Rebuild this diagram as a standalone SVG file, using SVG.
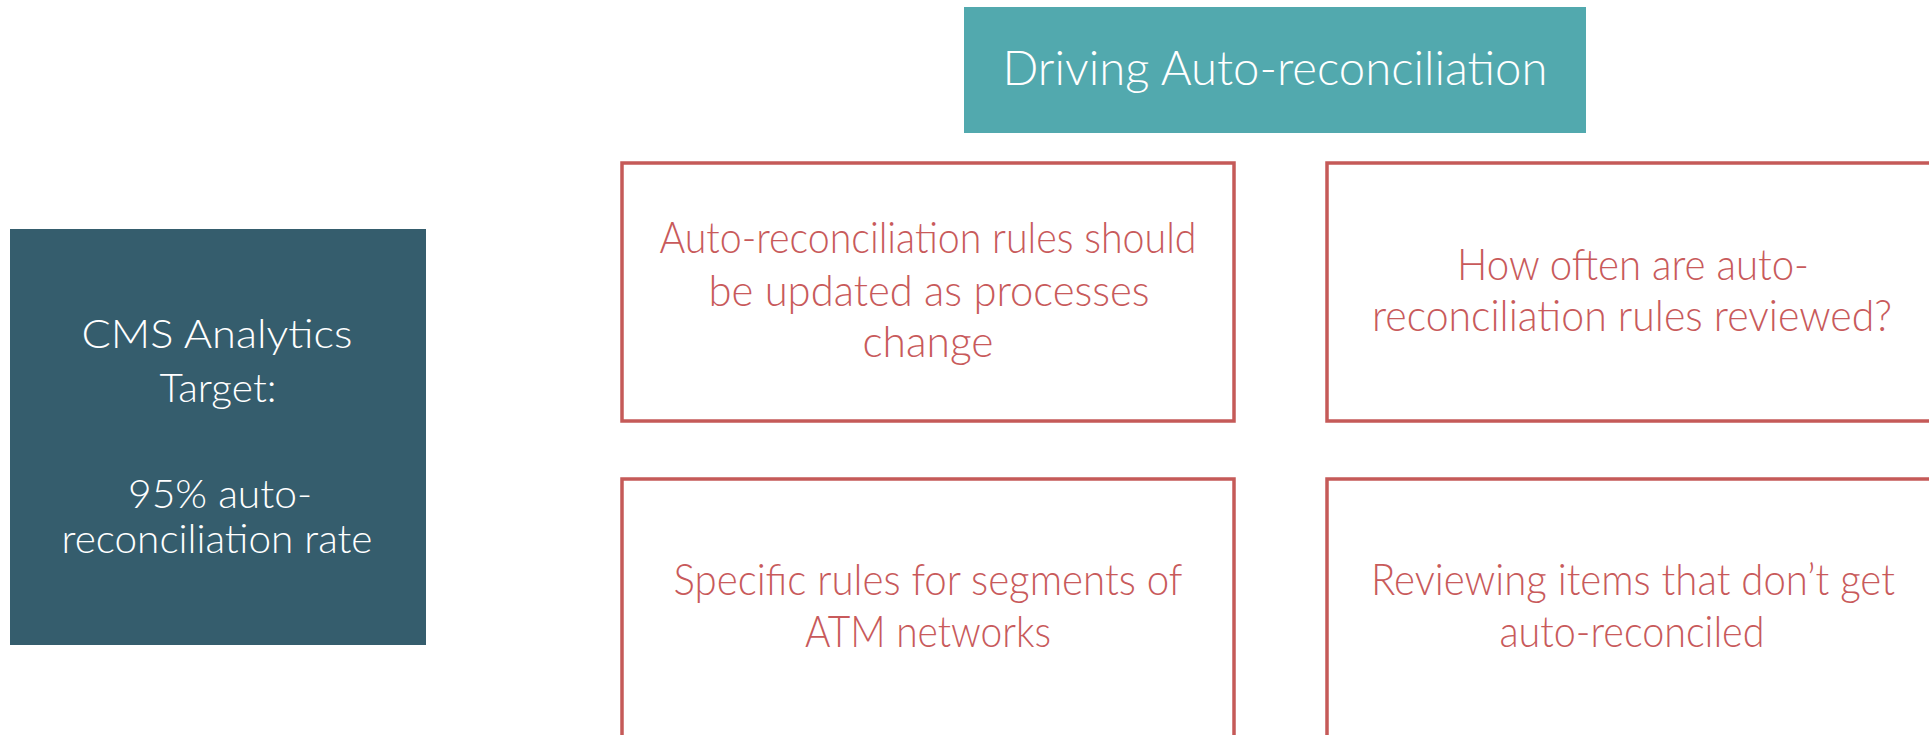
<svg xmlns="http://www.w3.org/2000/svg" width="1929" height="735" viewBox="0 0 1929 735">
<style>
.bg{fill:#ffffff}
.head{fill:#52A9AE}
.target{fill:#355D6D}
.card{fill:#ffffff;stroke:#C55A58;stroke-width:3.5}
text{font-family:"Lato","Liberation Sans",sans-serif;font-weight:300;text-anchor:middle}
.tw{fill:#ffffff}
.tr{fill:#C85A5B}
.f48{font-size:48px}
.f40{font-size:40px}
.f43{font-size:43px}
</style>
<rect class="bg" x="0" y="0" width="1929" height="735"/>
<g id="header">
<rect class="head" x="964" y="7" width="622" height="126"/>
<text class="tw f48" x="1275" y="85" textLength="545" lengthAdjust="spacingAndGlyphs">Driving Auto-reconciliation</text>
</g>
<g id="target">
<rect class="target" x="10" y="229" width="416" height="416"/>
<text class="tw f40" x="217" y="348" textLength="271" lengthAdjust="spacingAndGlyphs">CMS Analytics</text>
<text class="tw f40" x="218" y="402" textLength="117" lengthAdjust="spacingAndGlyphs">Target:</text>
<text class="tw f40" x="220" y="508" textLength="184" lengthAdjust="spacingAndGlyphs">95% auto-</text>
<text class="tw f40" x="217" y="553" textLength="311" lengthAdjust="spacingAndGlyphs">reconciliation rate</text>
</g>
<g id="card-rules-updated">
<rect class="card" x="622" y="163" width="612" height="258"/>
<text class="tr f43" x="928" y="253" textLength="537" lengthAdjust="spacingAndGlyphs">Auto-reconciliation rules should</text>
<text class="tr f43" x="929" y="306" textLength="441" lengthAdjust="spacingAndGlyphs">be updated as processes</text>
<text class="tr f43" x="928" y="357" textLength="131" lengthAdjust="spacingAndGlyphs">change</text>
</g>
<g id="card-review-frequency">
<rect class="card" x="1327" y="163" width="612" height="258"/>
<text class="tr f43" x="1633" y="280" textLength="352" lengthAdjust="spacingAndGlyphs">How often are auto-</text>
<text class="tr f43" x="1632" y="331" textLength="520" lengthAdjust="spacingAndGlyphs">reconciliation rules reviewed?</text>
</g>
<g id="card-segment-rules">
<rect class="card" x="622" y="479" width="612" height="400"/>
<text class="tr f43" x="928" y="595" textLength="509" lengthAdjust="spacingAndGlyphs">Specific rules for segments of</text>
<text class="tr f43" x="928" y="647" textLength="246" lengthAdjust="spacingAndGlyphs">ATM networks</text>
</g>
<g id="card-review-items">
<rect class="card" x="1327" y="479" width="612" height="400"/>
<text class="tr f43" x="1633" y="595" textLength="524" lengthAdjust="spacingAndGlyphs">Reviewing items that don’t get</text>
<text class="tr f43" x="1632" y="647" textLength="265" lengthAdjust="spacingAndGlyphs">auto-reconciled</text>
</g>
<g id="connectors"></g>
</svg>
